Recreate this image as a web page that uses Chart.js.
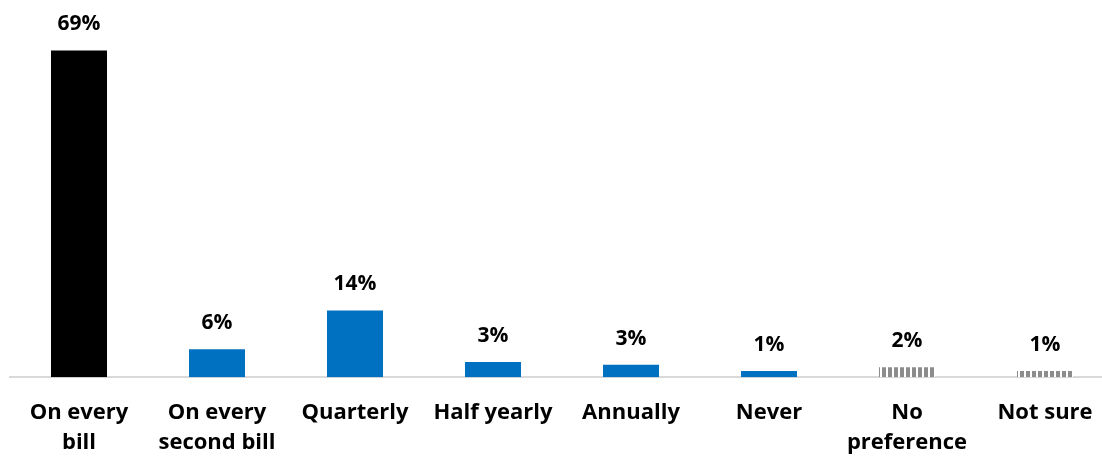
<!DOCTYPE html>
<html>
<head>
<meta charset="utf-8">
<script src="https://cdn.jsdelivr.net/npm/chart.js@4"></script>
<style>
  html, body { margin: 0; padding: 0; background: #fff; overflow: hidden; }
  #wrap { width: 1124px; height: 471px; }
</style>
</head>
<body>
<div id="wrap"><canvas id="freqChart"></canvas></div>
<script>
const categories = [
  ['On every', 'bill'],
  ['On every', 'second bill'],
  'Quarterly',
  'Half yearly',
  'Annually',
  'Never',
  ['No', 'preference'],
  'Not sure'
];
const shares = [69, 5.9, 14.1, 3.2, 2.6, 1.3, 2.1, 1.3];
const barKinds = ['black', 'blue', 'blue', 'blue', 'blue', 'blue', 'hatch', 'hatch'];

// grey vertical stripes for the "no answer" type bars
function stripes() {
  const c = document.createElement('canvas');
  c.width = 6; c.height = 6;
  const g = c.getContext('2d');
  g.fillStyle = '#ffffff';
  g.fillRect(0, 0, 6, 6);
  g.fillStyle = '#8c8c8c';
  g.fillRect(0, 0, 4, 6);
  return g.createPattern(c, 'repeat');
}
const hatch = stripes();
const colours = barKinds.map(k => k === 'black' ? '#000000' : k === 'blue' ? '#0070c0' : hatch);

const font = "'Open Sans', 'Noto Sans', sans-serif";

const valueLabels = {
  id: 'valueLabels',
  afterDatasetsDraw(chart) {
    const { ctx } = chart;
    const meta = chart.getDatasetMeta(0);
    ctx.save();
    ctx.font = 'bold 21px ' + font;
    ctx.fillStyle = '#000';
    ctx.textAlign = 'center';
    ctx.textBaseline = 'alphabetic';
    meta.data.forEach((bar, i) => {
      ctx.fillText(Math.round(shares[i]) + '%', bar.x, bar.y - 20);
    });
    ctx.restore();
  }
};

new Chart(document.getElementById('freqChart'), {
  type: 'bar',
  data: {
    labels: categories,
    datasets: [{
      data: shares,
      backgroundColor: colours,
      barPercentage: 0.406,
      categoryPercentage: 1
    }]
  },
  options: {
    responsive: true,
    maintainAspectRatio: false,
    animation: false,
    layout: { padding: { left: 10, right: 10, top: 22, bottom: 0 } },
    plugins: { legend: { display: false }, tooltip: { enabled: false } },
    scales: {
      y: {
        display: false,
        min: 0,
        max: 75
      },
      x: {
        grid: { display: false },
        border: { color: '#d9d9d9', width: 2 },
        ticks: {
          color: '#000',
          font: { family: font, size: 22, weight: 'bold', lineHeight: 1.36 },
          padding: 13,
          maxRotation: 0,
          autoSkip: false
        }
      }
    }
  },
  plugins: [valueLabels]
});
</script>
</body>
</html>
